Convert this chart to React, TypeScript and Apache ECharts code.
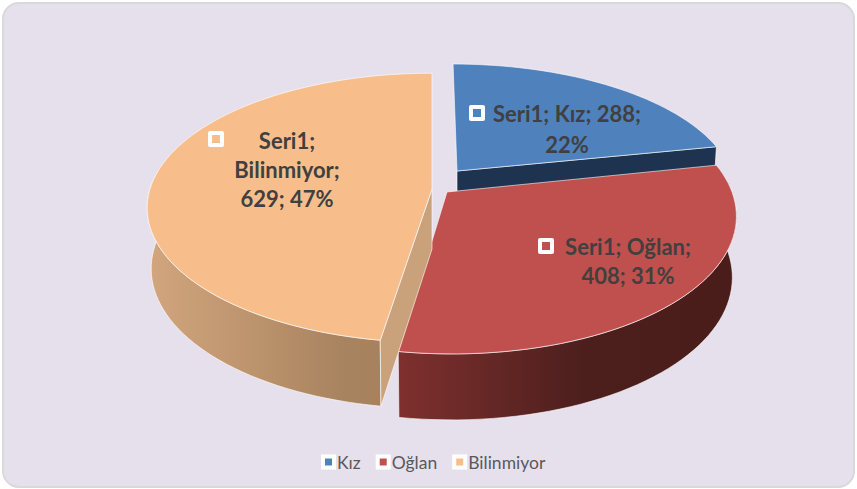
import React, { useEffect, useRef } from "react";
import * as echarts from "echarts";

const seriesName = "Seri1";
const categories = ["Kız", "Oğlan", "Bilinmiyor"];
const values = [288, 408, 629];
const topColors = ["#4F81BD", "#C0504D", "#F7BE8C"];

// label line breaks per category (how the parts of the label wrap)
const labelWraps = [
  (n: string, v: number, p: string) => [`${seriesName}; ${n}; ${v};`, p],
  (n: string, v: number, p: string) => [`${seriesName}; ${n};`, `${v}; ${p}`],
  (n: string, v: number, p: string) => [`${seriesName};`, `${n};`, `${v}; ${p}`],
];

// 3D look: per-slice projection parameters
const geo = [
  { cx: 457, cy: 171, rx: 274, ry: 123, k: 0.15, lean: 0.037 },
  { cx: 447, cy: 192, rx: 285, ry: 136, k: 0.16, lean: 0.03 },
  { cx: 432, cy: 189, rx: 282, ry: 132, k: 0.14, lean: 0 },
];
const wallStops = [
  [
    { offset: 0, color: "#1F3552" },
    { offset: 1, color: "#1F3552" },
  ],
  [
    { offset: 0, color: "#7E302E" },
    { offset: 0.55, color: "#4C1F1D" },
    { offset: 1, color: "#4A1D1B" },
  ],
  [
    { offset: 0, color: "#D2A67E" },
    { offset: 0.85, color: "#A8835F" },
    { offset: 1, color: "#A8825E" },
  ],
];
const faceColors = ["#1D3350", "#7E302E", "#C9A27C"];
const labelLayout = [
  { keyX: 477, keyY: 113, textX: 567, textY: 113, lh: 31 },
  { keyX: 546, keyY: 246, textX: 628, textY: 246, lh: 29 },
  { keyX: 216, keyY: 139, textX: 287, textY: 140, lh: 29 },
];
const edge = "rgba(255,255,255,0.6)";

function project(g: any, t: number) {
  const u = Math.sin(t);
  const v = -Math.cos(t);
  const w = 1 - g.k * v;
  const y = (g.ry * v) / w;
  return [g.cx + (g.rx * u) / w + g.lean * y, g.cy + y, v];
}
function lower(g: any, t: number) {
  const [x, y, v] = project(g, t);
  return [g.cx + (x - g.cx) * 0.986, y + 60 + 6 * v];
}

export default function App() {
  const ref = useRef<HTMLDivElement>(null);
  useEffect(() => {
    document.body.style.margin = "0";
    document.body.style.background = "#fff";
    const chart = echarts.init(ref.current!, null, { renderer: "svg" });
    const total = values.reduce((a, b) => a + b, 0);
    let acc = 0;
    const spans = values.map((v) => {
      const s = (acc / total) * Math.PI * 2;
      acc += v;
      return [s, (acc / total) * Math.PI * 2];
    });

    const renderSlice = (i: number) => (_p: any, api: any) => {
      const value = api.value(0);
      const g = geo[i];
      const [a0, a1] = spans[i];
      const n = Math.max(8, Math.round(((a1 - a0) / Math.PI) * 90));
      const angles: number[] = [];
      for (let j = 0; j <= n; j++) angles.push(a0 + ((a1 - a0) * j) / n);
      const apex = [g.cx, g.cy];
      const apexLow = [g.cx, g.cy + 60];
      const topArc = angles.map((t) => project(g, t).slice(0, 2));
      const lowArc = angles.map((t) => lower(g, t));
      const children: any[] = [];
      if (i !== 0) {
        // outer wall
        const visible = angles.filter((t) => project(g, t)[2] > -0.1);
        children.push({
          type: "polygon",
          shape: {
            points: [
              ...visible.map((t) => project(g, t).slice(0, 2)),
              ...visible.slice().reverse().map((t) => lower(g, t)),
            ],
          },
          style: {
            stroke: edge,
            lineWidth: 1,
            fill: {
              type: "linear",
              x: 0,
              y: 0,
              x2: 1,
              y2: 0,
              colorStops: wallStops[i],
            },
          },
        });
      }
      if (i === 0) {
        children.push({
          type: "polygon",
          shape: { points: [apex, topArc[n], lowArc[n], apexLow] },
          style: { fill: faceColors[i], stroke: edge, lineWidth: 1 },
        });
      }
      if (i === 2) {
        children.push({
          type: "polygon",
          shape: { points: [apex, topArc[0], lowArc[0], apexLow] },
          style: { fill: faceColors[i], stroke: edge, lineWidth: 1 },
        });
      }
      children.push({
        type: "polygon",
        shape: { points: [apex, ...topArc] },
        style: { fill: topColors[i], stroke: edge, lineWidth: 1 },
      });
      const L = labelLayout[i];
      const pct = `${Math.round((value / total) * 100)}%`;
      const lines = labelWraps[i](categories[i], value, pct);
      children.push({
        type: "rect",
        shape: { x: L.keyX - 8, y: L.keyY - 8, width: 16, height: 16, r: 2 },
        style: { fill: "#fff" },
      });
      children.push({
        type: "rect",
        shape: { x: L.keyX - 4, y: L.keyY - 4, width: 8, height: 8 },
        style: { fill: topColors[i] },
      });
      children.push({
        type: "text",
        x: L.textX,
        y: L.textY - L.lh / 2,
        style: {
          text: lines.join("\n"),
          fill: "#404040",
          font: "bold 22px Lato",
          lineHeight: L.lh,
          align: "center",
          verticalAlign: "top",
        },
      });
      return { type: "group", children };
    };

    chart.setOption({
      animation: false,
      graphic: [
        {
          type: "rect",
          z: -1,
          shape: { x: 3, y: 3, width: 851, height: 484, r: 16 },
          style: { fill: "#E6E0EC", stroke: "#D9D9D9", lineWidth: 2 },
        },
      ],
      legend: {
        left: 316,
        top: 448,
        itemWidth: 11,
        itemHeight: 11,
        itemGap: 15,
        icon: "rect",
        selectedMode: false,
        itemStyle: { borderColor: "#fff", borderWidth: 4 },
        textStyle: { color: "#595959", fontFamily: "Lato", fontSize: 17.5, padding: [0, 0, 0, -2] },
        data: categories,
      },
      series: categories.map((name, i) => ({
        type: "custom",
        name,
        coordinateSystem: "none",
        itemStyle: { color: topColors[i] },
        data: [[values[i]]],
        renderItem: renderSlice(i),
      })),
    });
    return () => chart.dispose();
  }, []);
  return <div ref={ref} style={{ width: 857, height: 489 }} />;
}
